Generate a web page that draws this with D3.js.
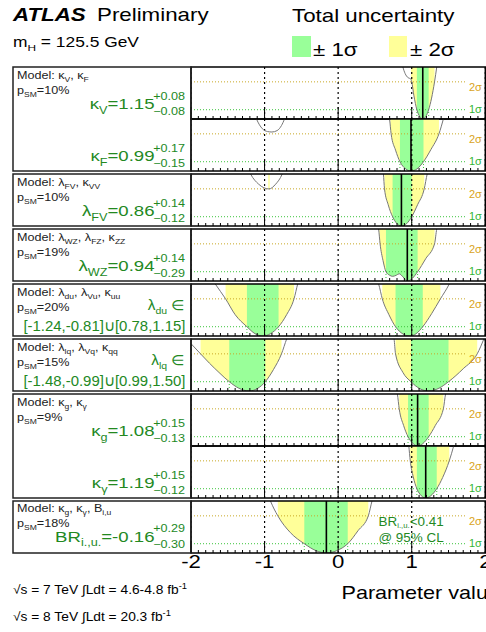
<!DOCTYPE html>
<html><head><meta charset="utf-8">
<script src="https://cdn.jsdelivr.net/npm/d3@7"></script>
<style>
body{margin:0;background:#fff}
svg{display:block}
text{font-family:"Liberation Sans",Arial,Helvetica,sans-serif}
</style>
</head><body>
<svg id="c" width="486" height="632"></svg>
<script>
// ---------------- DATA ----------------
const paramNames = ["κ|V", "κ|F", "λ|FV", "λ|WZ", "λ|du", "λ|lq", "κ|g", "κ|γ", "BR|i.,u."];
const bestFit = [1.15, 0.99, 0.86, 0.94, null, null, 1.08, 1.19, -0.16];
const errUp   = [0.08, 0.17, 0.14, 0.14, null, null, 0.15, 0.15, 0.29];
const errDn   = [0.08, 0.15, 0.12, 0.29, null, null, 0.13, 0.12, 0.30];
const intervalText = [null, null, null, null, "[-1.24,-0.81]∪[0.78,1.15]", "[-1.48,-0.99]∪[0.99,1.50]", null, null, null];
const sigma1 = [
  [[1.07, 1.23]], [[0.84, 1.16]], [[0.74, 1.00]], [[0.65, 1.08]],
  [[-1.24, -0.81], [0.78, 1.15]], [[-1.48, -0.99], [0.99, 1.50]],
  [[0.95, 1.23]], [[1.07, 1.34]], [[-0.46, 0.13]]
];
const sigma2 = [
  [[0.99, 1.31]], [[0.71, 1.37]], [[-0.95, -0.93], [0.63, 1.17]], [[0.56, 1.31]],
  [[-1.53, -0.60], [0.60, 1.39]], [[-1.87, -0.77], [0.78, 1.89]],
  [[0.83, 1.43]], [[0.98, 1.51]], [[-0.82, 0.41]]
];
// likelihood scans: x value, -2 ln Lambda
const scans = [
  [[[0.86,6.3],[0.88,5.6],[0.91,4.9],[0.95,4.45],[0.985,4.33],[1.0,4.0],[1.03,2.5],[1.07,1.0],[1.11,0.25],[1.15,0],[1.19,0.25],[1.23,1.0],[1.27,2.25],[1.31,4.0],[1.34,5.6],[1.35,6.2]]],
  [[[-1.14,6.2],[-1.11,5.6],[-1.03,4.55],[-0.96,4.25],[-0.90,4.2],[-0.83,4.35],[-0.77,4.9],[-0.73,5.6],[-0.71,6.1]],
   [[0.68,6.2],[0.70,5.5],[0.72,4.0],[0.78,2.25],[0.84,1.0],[0.92,0.22],[0.99,0],[1.07,0.22],[1.16,1.0],[1.26,2.3],[1.37,4.0],[1.43,5.6],[1.45,6.2]]],
  [[[-1.22,6.1],[-1.19,5.6],[-1.08,4.5],[-0.94,3.99],[-0.85,4.5],[-0.76,5.6],[-0.74,6.0]],
   [[0.60,6.2],[0.615,5.6],[0.63,4.0],[0.68,2.3],[0.74,1.0],[0.80,0.25],[0.86,0],[0.93,0.25],[1.00,1.0],[1.08,2.3],[1.17,4.0],[1.21,5.6],[1.23,6.2]]],
  [[[0.53,6.2],[0.55,5.6],[0.57,4.0],[0.61,2.2],[0.65,1.0],[0.70,0.62],[0.74,0.5],[0.79,0.62],[0.83,0.78],[0.88,0.45],[0.94,0],[1.01,0.3],[1.08,1.0],[1.19,2.4],[1.31,4.0],[1.34,5.6],[1.36,6.2]]],
  [[[-1.72,6.2],[-1.67,5.6],[-1.53,4.0],[-1.40,2.3],[-1.24,1.0],[-1.13,0.25],[-1.02,0],[-0.92,0.25],[-0.81,1.0],[-0.70,2.3],[-0.60,4.0],[-0.55,5.6],[-0.53,6.2]],
   [[0.52,6.2],[0.55,5.6],[0.60,4.0],[0.69,2.3],[0.78,1.0],[0.88,0.22],[0.97,0],[1.06,0.25],[1.15,1.0],[1.27,2.4],[1.39,4.0],[1.51,5.6],[1.54,6.1]]],
  [[[-2.0,5.1],[-1.87,4.0],[-1.75,3.0],[-1.62,2.0],[-1.48,1.0],[-1.35,0.3],[-1.21,0],[-1.09,0.3],[-0.99,1.0],[-0.88,2.3],[-0.77,4.0],[-0.70,5.6],[-0.68,6.0]],
   [[0.75,6.0],[0.76,5.6],[0.78,4.0],[0.88,2.0],[0.99,1.0],[1.11,0.25],[1.23,0],[1.37,0.3],[1.50,1.0],[1.70,2.4],[1.89,4.0],[1.98,5.6],[2.0,6.0]]],
  [[[0.79,6.2],[0.805,5.6],[0.83,4.0],[0.89,2.2],[0.95,1.0],[1.02,0.25],[1.08,0],[1.15,0.25],[1.23,1.0],[1.32,2.2],[1.43,4.0],[1.46,5.6],[1.48,6.2]]],
  [[[0.95,6.2],[0.96,5.6],[0.98,4.0],[1.02,2.3],[1.07,1.0],[1.13,0.25],[1.19,0],[1.26,0.25],[1.34,1.0],[1.42,2.2],[1.51,4.0],[1.57,5.6],[1.59,6.2]]],
  [[[-0.95,6.2],[-0.92,5.6],[-0.82,4.0],[-0.65,2.2],[-0.46,1.0],[-0.30,0.25],[-0.16,0],[-0.02,0.25],[0.13,1.0],[0.27,2.4],[0.41,4.0],[0.46,5.6],[0.48,6.2]]]
];
const models = ["κ|V|, κ|F", "λ|FV|, κ|VV", "λ|WZ|, λ|FZ|, κ|ZZ", "λ|du|, λ|Vu|, κ|uu", "λ|lq|, λ|Vq|, κ|qq", "κ|g|, κ|γ", "κ|g|, κ|γ|, B|i,u"];
const pSM = [10, 10, 19, 20, 15, 9, 18];
const modelPanels = [[0, 1], [2], [3], [4], [5], [6, 7], [8]];
const xTicks = [-2, -1, 0, 1, 2];
const brLimit = 0.41;

// ---------------- LAYOUT ----------------
const SX = 1.2;
const GREEN_TXT = "#23891f";
const C1 = "#99ff99", C2 = "#ffff99";
const X0 = 191, X1 = 485.3, BX0 = 13;
const PH = 52, GAP = 3, TOP = 67;
const YMAX = 5.6;
const x = d3.scaleLinear().domain([-2, 2]).range([X0, X1]);
const svg = d3.select("#c");
const defs = svg.append("defs");

function parts(s) { return s.split("|").map((t, i) => [t, i % 2 ? "sub" : "n"]); }

function rich(g, px, py, segs, size, anchor, color, opt) {
  opt = opt || {};
  const sx = opt.sx || SX;
  const t = g.append("text")
    .attr("transform", `translate(${px},${py}) scale(${sx},1)`)
    .attr("text-anchor", anchor || "start")
    .attr("fill", color || "#000")
    .attr("font-size", size);
  if (opt.bold) t.attr("font-weight", "bold");
  if (opt.italic) t.attr("font-style", "italic");
  const subScale = opt.subScale || 0.68;
  const subDrop = opt.subDrop || 0.3;
  let off = 0;
  segs.forEach(([str, kind]) => {
    let target = 0, fs = size;
    if (kind === "sub") { target = size * subDrop; fs = size * subScale; }
    if (kind === "sup") { target = -size * 0.4; fs = size * subScale; }
    t.append("tspan").attr("dy", target - off).attr("font-size", fs).text(str);
    off = target;
  });
  return t;
}

const panelTop = [];
const rowTop = [];
let yc = TOP;
modelPanels.forEach((ps, r) => {
  rowTop[r] = yc;
  ps.forEach(p => { panelTop[p] = yc; yc += PH; });
  yc += GAP;
});

const areaGen = (y) => d3.area().curve(d3.curveMonotoneX)
  .x(d => x(d[0])).y0(y(20)).y1(d => y(d[1]));
const lineGen = (y) => d3.line().curve(d3.curveMonotoneX)
  .x(d => x(d[0])).y(d => y(d[1]));

scans.forEach((segsList, p) => {
  const top = panelTop[p], bot = top + PH;
  const y = d3.scaleLinear().domain([0, YMAX]).range([bot, top]);
  const g = svg.append("g");
  defs.append("clipPath").attr("id", "pc" + p).append("rect")
    .attr("x", X0).attr("y", top).attr("width", X1 - X0).attr("height", PH);
  const ac = defs.append("clipPath").attr("id", "ac" + p);
  segsList.forEach(seg => ac.append("path").attr("d", areaGen(y)(seg)));

  const gp = g.append("g").attr("clip-path", `url(#pc${p})`);
  const gf = gp.append("g").attr("clip-path", `url(#ac${p})`);
  sigma2[p].forEach(([a, b]) => gf.append("rect").attr("x", x(a)).attr("width", Math.max(1, x(b) - x(a)))
    .attr("y", top).attr("height", PH).attr("fill", C2));
  sigma1[p].forEach(([a, b]) => gf.append("rect").attr("x", x(a)).attr("width", x(b) - x(a))
    .attr("y", top).attr("height", PH).attr("fill", C1));

  gp.append("line").attr("x1", X0).attr("x2", 467).attr("y1", y(4)).attr("y2", y(4))
    .attr("stroke", "#c9a825").attr("stroke-width", 1).attr("stroke-dasharray", "1,2");
  gp.append("line").attr("x1", X0).attr("x2", 467).attr("y1", y(1)).attr("y2", y(1))
    .attr("stroke", "#3cc43c").attr("stroke-width", 1).attr("stroke-dasharray", "1,2");

  sigma1[p].forEach(iv => iv.forEach(v => gp.append("line").attr("x1", x(v)).attr("x2", x(v))
    .attr("y1", y(0)).attr("y2", y(1)).attr("stroke", "#3cc43c").attr("stroke-dasharray", "1,2")));

  xTicks.forEach(v => gp.append("line").attr("x1", x(v)).attr("x2", x(v)).attr("y1", top).attr("y2", bot)
    .attr("stroke", "#000").attr("stroke-width", 1.2).attr("stroke-dasharray", "2,3"));

  segsList.forEach(seg => gp.append("path").attr("d", lineGen(y)(seg)).attr("fill", "none")
    .attr("stroke", "#777").attr("stroke-width", 1));

  if (bestFit[p] !== null)
    gp.append("line").attr("x1", x(bestFit[p])).attr("x2", x(bestFit[p])).attr("y1", bot).attr("y2", top)
      .attr("stroke", "#000").attr("stroke-width", 1.6);

  d3.range(-20, 21).forEach(k => {
    const v = k / 10, major = k % 10 === 0;
    g.append("line").attr("x1", x(v)).attr("x2", x(v)).attr("y1", bot).attr("y2", bot - (major ? 12 : 3))
      .attr("stroke", "#000").attr("stroke-width", 1);
  });

  g.append("rect").attr("x", X0).attr("y", top).attr("width", X1 - X0).attr("height", PH)
    .attr("fill", "none").attr("stroke", "#000").attr("stroke-width", 1.5);

  g.append("text").attr("x", 469).attr("y", y(4) + 9).attr("font-size", 11).attr("fill", "#d9a31c").text("2σ");
  g.append("text").attr("x", 469).attr("y", y(1) + 3).attr("font-size", 11).attr("fill", "#33b533").text("1σ");
});

modelPanels.forEach((ps, r) => {
  const top = rowTop[r], h = ps.length * PH;
  const compact = r === 6;
  svg.append("rect").attr("x", BX0).attr("y", top).attr("width", X0 - BX0).attr("height", h)
    .attr("fill", "none").attr("stroke", "#222").attr("stroke-width", 1.5);
  rich(svg, 17, top + (compact ? 10.5 : 12), [["Model: ", "n"], ...parts(models[r])], 10.5, "start", "#222");
  rich(svg, 17, top + (compact ? 25.5 : 26.5), [["p", "n"], ["SM", "sub"], ["=" + pSM[r] + "%", "n"]], 10.5, "start", "#222");
  ps.forEach((p) => {
    const pt = panelTop[p];
    const nm = parts(paramNames[p]);
    if (bestFit[p] !== null) {
      const off = compact ? -1.3 : 0;
      const valStr = (bestFit[p] < 0 ? "-" : "") + Math.abs(bestFit[p]).toFixed(2);
      rich(svg, 154.5, pt + 42 + off, [...nm, ["=" + valStr, "n"]], 15.5, "end", GREEN_TXT);
      rich(svg, 185, pt + 32.5 + off, [["+" + errUp[p].toFixed(2), "n"]], 10.5, "end", GREEN_TXT);
      rich(svg, 185, pt + 48.3 + off, [["−" + errDn[p].toFixed(2), "n"]], 10.5, "end", GREEN_TXT);
    } else {
      rich(svg, 185, pt + 25.5, [...nm, [" ∈", "n"]], 14, "end", GREEN_TXT, {sx: 1.1});
      rich(svg, 185.5, pt + 46.7, [[intervalText[p], "n"]], 14.5, "end", GREEN_TXT, {sx: 1.03});
    }
  });
});

// BR limit text in last panel
rich(svg, 378.5, 526, [["BR", "n"], ["i.,u.", "sub"], ["<" + brLimit.toFixed(2), "n"]], 12, "start", GREEN_TXT, {subScale: 0.58, subDrop: 0.2, sx: 1.12});
rich(svg, 378.5, 541.5, [["@ 95% CL", "n"]], 12, "start", GREEN_TXT, {sx: 1.12});

// bottom axis labels
const lastBot = panelTop[8] + PH;
xTicks.forEach(v => rich(svg, x(v), lastBot + 14.5, [[v < 0 ? "-" + Math.abs(v) : String(v), "n"]], 18.5, "middle", "#000"));
rich(svg, 341.5, 599, [["Parameter value", "n"]], 18, "start", "#000");

// header
rich(svg, 13, 21, [["ATLAS", "n"]], 18.6, "start", "#000", {bold: true, italic: true});
rich(svg, 97, 21, [["Preliminary", "n"]], 18.6, "start", "#000");
rich(svg, 13, 47, [["m", "n"], ["H", "sub"], [" = 125.5 GeV", "n"]], 14.5, "start", "#000");
rich(svg, 292, 21.5, [["Total uncertainty", "n"]], 18.6, "start", "#000");
svg.append("rect").attr("x", 292).attr("y", 36).attr("width", 19).attr("height", 21).attr("fill", C1);
svg.append("rect").attr("x", 389).attr("y", 36).attr("width", 18).attr("height", 21).attr("fill", C2);
rich(svg, 313, 55.5, [["± 1σ", "n"]], 18.6, "start", "#000");
rich(svg, 410, 55.5, [["± 2σ", "n"]], 18.6, "start", "#000");

// lumi text
rich(svg, 13, 594, [["√s = 7 TeV ∫Ldt = 4.6-4.8 fb", "n"], ["-1", "sup"]], 12.3, "start", "#000", {sx: 1.12});
rich(svg, 13, 620.5, [["√s = 8 TeV ∫Ldt = 20.3 fb", "n"], ["-1", "sup"]], 12.3, "start", "#000", {sx: 1.12});
</script>
</body></html>
